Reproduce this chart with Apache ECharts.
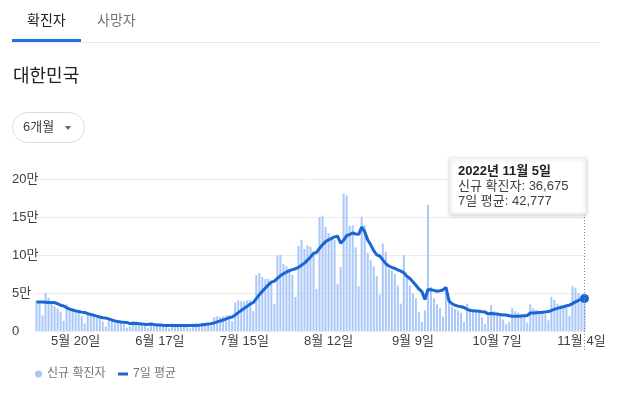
<!DOCTYPE html>
<html><head><meta charset="utf-8">
<script src="https://cdn.jsdelivr.net/npm/echarts@6/dist/echarts.min.js"></script>
<style>
html,body{margin:0;padding:0;background:#fff;}
body{width:617px;height:395px;position:relative;overflow:hidden;font-family:"Liberation Sans",Arial,"Noto Sans CJK KR",sans-serif;}
#chart{position:absolute;left:0;top:0;width:617px;height:395px;z-index:0;}
.hd{position:absolute;z-index:1;white-space:nowrap;}
</style></head>
<body>
<div id="chart"></div>
<div class="hd" style="left:27px;top:11px;font-size:14px;line-height:18px;color:#202124;">확진자</div>
<div class="hd" style="left:97px;top:11px;font-size:14px;line-height:18px;color:#70757a;">사망자</div>
<div class="hd" style="left:12px;top:42px;width:588px;height:1px;background:#e8eaed;"></div>
<div class="hd" style="left:12px;top:39px;width:69px;height:3px;background:#1a73e8;"></div>
<div class="hd" style="left:13px;top:65px;font-size:18px;line-height:22px;color:#202124;">대한민국</div>
<div class="hd" style="left:12px;top:112px;width:71px;height:29px;border:1px solid #dadce0;border-radius:16px;"></div>
<div class="hd" style="left:23px;top:119px;font-size:13px;line-height:16px;color:#3c4043;">6개월</div>
<div class="hd" style="left:65px;top:126px;width:0;height:0;border-left:3.5px solid transparent;border-right:3.5px solid transparent;border-top:4px solid #5f6368;"></div>
<script>
const startDate = '2022-05-07';
const dayCount = 183;
const labelStart = 13, labelStep = 28;
const yTicks = [0, 50000, 100000, 150000, 200000];
const seriesNames = ['신규 확진자', '7일 평균'];

const dailyCases = [
 40064, 38589, 20601, 49933, 43925, 35906, 32451,
 29581, 25434, 13296, 35117, 29935, 27233, 25125,
 23956, 19298, 9975, 23945, 23452, 18816, 17294,
 16575, 12664, 6000, 17000, 13358, 10000, 12542,
 12046, 9830, 4500, 6171, 13358, 12161, 9314,
 8440, 7382, 3828, 9441, 9310, 8431, 7605,
 6478, 6068, 3423, 9855, 9310, 7498, 7224,
 6239, 6254, 3430, 9896, 10455, 9595, 10715,
 10059, 9528, 6253, 18147, 19371, 18511, 19323,
 20286, 20410, 12693, 37360, 40266, 39196, 38882,
 40342, 40059, 26299, 73582, 76402, 71170, 68632,
 68551, 65433, 35883, 99327, 100285, 88384, 85320,
 82002, 73589, 44689, 111789, 119922, 107894, 112901,
 110666, 105507, 55292, 149897, 151792, 137241, 128714,
 124592, 119603, 62078, 84128, 180803, 178574, 138812,
 138817, 110000, 59046, 150466, 139339, 103000, 93000,
 85000, 72000, 47924, 115311, 104000, 81573, 80000,
 75000, 60000, 36000, 99837, 73000, 60000, 50000,
 43000, 25000, 12000, 27000, 166000, 58000, 43000,
 35000, 30000, 19000, 52000, 40000, 32000, 29000,
 27000, 24000, 12000, 36000, 30000, 29000, 27000,
 25000, 18000, 9000, 20000, 34000, 26000, 24000,
 20000, 15000, 9000, 12000, 30000, 26000, 24000,
 22000, 18000, 11000, 35000, 30000, 28000, 26000,
 24000, 22000, 14000, 45000, 41000, 36000, 34000,
 31000, 31000, 20000, 59000, 57000, 50000, 46000,
 36675
];

const avg7 = [
 38000, 38100, 38000, 37900, 37600, 37400, 37360,
 35860, 33970, 32930, 30810, 28810, 27570, 26510,
 25710, 24840, 24370, 22770, 21860, 20660, 19540,
 18490, 17540, 16970, 15990, 14540, 13290, 12600,
 11940, 11530, 11310, 9770, 9770, 10090, 9630,
 9110, 8770, 8670, 9130, 8540, 8000, 7760,
 7490, 7300, 7240, 7310, 7310, 7190, 7130,
 7090, 7110, 7110, 7110, 7290, 7590, 8090,
 8640, 9100, 9510, 10690, 11960, 13230, 14460,
 15910, 17470, 18390, 21140, 24130, 27090, 29890,
 32740, 35560, 37500, 42670, 47830, 52400, 56640,
 60690, 64300, 65670, 69340, 72760, 75210, 77600,
 79510, 80690, 81940, 83730, 86530, 89310, 93260,
 97360, 101910, 103430, 108870, 113430, 117610, 119870,
 121860, 123870, 124840, 115440, 119590, 125500, 126940,
 128970, 127600, 127160, 136640, 130710, 119910, 113370,
 105690, 100260, 98670, 93640, 88600, 85540, 83690,
 82260, 80540, 78840, 76630, 72200, 69110, 64830,
 60260, 55260, 51830, 41430, 54710, 54430, 53430,
 52290, 53000, 54000, 57570, 39570, 35860, 33860,
 32710, 31860, 30860, 28570, 27140, 26710, 26430,
 26140, 25290, 24860, 22570, 23140, 22710, 22290,
 21570, 21140, 21140, 20000, 19430, 19430, 19430,
 19710, 20140, 20430, 23710, 23710, 24000, 24290,
 24570, 25140, 25570, 27000, 28570, 29710, 30860,
 31860, 33140, 34000, 36000, 38290, 40290, 42000,
 42777
];

// category dates
const categories = [];
{
  const d0 = new Date(startDate + 'T00:00:00Z');
  for (let i = 0; i < dayCount; i++) {
    const d = new Date(d0.getTime() + i * 86400000);
    categories.push(d.getUTCFullYear() + '-' + (d.getUTCMonth() + 1) + '-' + d.getUTCDate());
  }
}
function fmtMD(c){ const p = c.split('-'); return p[1] + '월 ' + p[2] + '일'; }
function fmtYMD(c){ const p = c.split('-'); return p[0] + '년 ' + p[1] + '월 ' + p[2] + '일'; }
function fmtNum(n){ return String(n).replace(/\B(?=(\d{3})+(?!\d))/g, ','); }

const FONT = '"Liberation Sans", Arial, "Noto Sans CJK KR", sans-serif';
const BAR = '#a9c7f8';
const LINE = '#1a66d2';
const last = dayCount - 1;

const chart = echarts.init(document.getElementById('chart'), null, {renderer: 'canvas'});
chart.setOption({
  animation: false,
  textStyle: {fontFamily: FONT},
  grid: {left: 35, right: 31, top: 179, bottom: 64, containLabel: false},
  legend: [
    {data: [{name: seriesNames[0], icon: 'circle'}], left: 35, top: 368, padding: 0, itemWidth: 7, itemHeight: 7,
     textStyle: {color: '#70757a', fontSize: 12, fontFamily: FONT}, selectedMode: false},
    {data: [{name: seriesNames[1], icon: 'rect'}], left: 118, top: 368, padding: 0, itemWidth: 10, itemHeight: 3,
     textStyle: {color: '#70757a', fontSize: 12, fontFamily: FONT}, selectedMode: false}
  ],
  xAxis: {
    type: 'category', data: categories, boundaryGap: true,
    axisLine: {show: false}, axisTick: {show: false},
    axisLabel: {
      interval: (i) => i >= labelStart && (i - labelStart) % labelStep === 0,
      formatter: fmtMD, color: '#3c4043', fontSize: 13, fontFamily: FONT, margin: 4
    },
    splitLine: {show: false}
  },
  yAxis: {
    type: 'value', min: yTicks[0], max: yTicks[yTicks.length - 1], interval: yTicks[1] - yTicks[0],
    axisLine: {show: false}, axisTick: {show: false},
    axisLabel: {
      align: 'left', margin: 23, color: '#3c4043', fontSize: 13, fontFamily: FONT,
      formatter: (v) => v === 0 ? '0' : (v / 10000) + '만'
    },
    splitLine: {lineStyle: {color: '#ececec', width: 1}}
  },
  series: [
    {name: seriesNames[0], type: 'bar', data: dailyCases, barWidth: 2,
     itemStyle: {color: BAR}, emphasis: {disabled: true}},
    {name: seriesNames[1], type: 'line', data: avg7, smooth: false,
     showSymbol: true, showAllSymbol: true,
     symbol: (v, p) => p.dataIndex === last ? 'circle' : 'none', symbolSize: 9,
     lineStyle: {color: LINE, width: 3}, itemStyle: {color: LINE}, emphasis: {disabled: true}, z: 3}
  ]
});

const pt = chart.convertToPixel({xAxisIndex: 0, yAxisIndex: 0}, [last, avg7[last]]);
const bw = 136, bh = 56;
const bx = Math.round(pt[0]) + 2 - bw, by = 158;
chart.setOption({
  graphic: [
    {type: 'line', shape: {x1: pt[0], y1: by + bh, x2: pt[0], y2: 352}, silent: true,
     style: {stroke: '#8a8a8a', lineWidth: 1, lineDash: [1, 2]}, z: 10},
    {type: 'rect', shape: {x: bx, y: by, width: bw, height: bh}, silent: true,
     style: {fill: '#fff', stroke: '#ececec', lineWidth: 1, shadowBlur: 4, shadowColor: 'rgba(0,0,0,0.2)', shadowOffsetY: 1}, z: 20},
    {type: 'text', x: bx + 8, y: by + 13, silent: true, z: 21,
     style: {text: fmtYMD(categories[last]), font: 'bold 13px ' + FONT, fill: '#202124', verticalAlign: 'middle'}},
    {type: 'text', x: bx + 8, y: by + 28, silent: true, z: 21,
     style: {text: seriesNames[0] + ': ' + fmtNum(dailyCases[last]), font: '13px ' + FONT, fill: '#3c4043', verticalAlign: 'middle'}},
    {type: 'text', x: bx + 8, y: by + 43, silent: true, z: 21,
     style: {text: seriesNames[1] + ': ' + fmtNum(avg7[last]), font: '13px ' + FONT, fill: '#3c4043', verticalAlign: 'middle'}}
  ]
});
</script>
</body></html>
